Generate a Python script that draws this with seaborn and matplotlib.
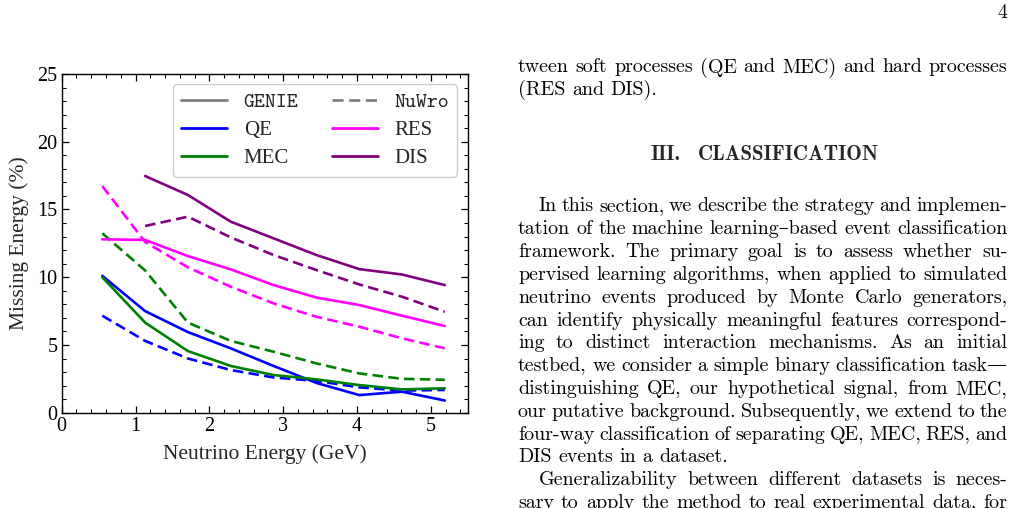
import matplotlib
matplotlib.use("Agg")
import matplotlib.pyplot as plt
from matplotlib.lines import Line2D
from matplotlib.ticker import MultipleLocator
import numpy as np
import pandas as pd
import seaborn as sns

# energy bin centres (GeV)
energy = [0.55, 1.13, 1.71, 2.29, 2.87, 3.45, 4.03, 4.61, 5.19]

# missing energy (%) per process, GENIE
genie_qe = [10.1, 7.5, 5.95, 4.75, 3.45, 2.2, 1.3, 1.55, 0.9]
genie_mec = [10.0, 6.65, 4.55, 3.45, 2.78, 2.46, 2.04, 1.72, 1.8]
genie_res = [12.8, 12.75, 11.56, 10.58, 9.42, 8.5, 7.95, 7.16, 6.4]
genie_dis = [None, 17.47, 16.07, 14.1, 12.87, 11.64, 10.6, 10.2, 9.42]

# missing energy (%) per process, NuWro
nuwro_qe = [7.16, 5.3, 4.0, 3.15, 2.6, 2.35, 1.87, 1.63, 1.68]
nuwro_mec = [13.24, 10.5, 6.65, 5.3, 4.5, 3.64, 2.9, 2.5, 2.43]
nuwro_res = [16.73, 12.6, 10.73, 9.3, 8.07, 7.08, 6.35, 5.49, 4.75]
nuwro_dis = [None, 13.78, 14.47, 12.94, 11.64, 10.53, 9.47, 8.56, 7.45]

processes = ["QE", "MEC", "RES", "DIS"]
generators = ["GENIE", "NuWro"]
colors = {"QE": "#0000ff", "MEC": "#008000", "RES": "#ff00ff", "DIS": "#800080"}

series = {
    ("GENIE", "QE"): genie_qe, ("GENIE", "MEC"): genie_mec,
    ("GENIE", "RES"): genie_res, ("GENIE", "DIS"): genie_dis,
    ("NuWro", "QE"): nuwro_qe, ("NuWro", "MEC"): nuwro_mec,
    ("NuWro", "RES"): nuwro_res, ("NuWro", "DIS"): nuwro_dis,
}
rows = []
for (gen, proc), vals in series.items():
    for e, v in zip(energy, vals):
        if v is not None:
            rows.append({"energy": e, "missing": v, "process": proc, "generator": gen})
df = pd.DataFrame(rows)

sns.set_style("ticks")
plt.rcParams["font.family"] = ["Liberation Serif", "DejaVu Serif"]

W, H = 1014, 508
fig = plt.figure(figsize=(W / 100, H / 100), dpi=100)
ax = fig.add_axes([61.7 / W, 1 - 412.7 / H, 406 / W, 338.7 / H])

sns.lineplot(data=df, x="energy", y="missing", hue="process", style="generator",
             hue_order=processes, style_order=generators, palette=colors,
             dashes={"GENIE": "", "NuWro": (4, 2)}, linewidth=1.9,
             legend=False, ax=ax)

ax.set_xlim(0, 5.5)
ax.set_ylim(0, 25)
ax.xaxis.set_major_locator(MultipleLocator(1))
ax.xaxis.set_minor_locator(MultipleLocator(0.2))
ax.yaxis.set_major_locator(MultipleLocator(5))
ax.yaxis.set_minor_locator(MultipleLocator(1))
ax.tick_params(which="both", direction="in", top=True, right=True, labelsize=14.5, colors="black")
ax.tick_params(which="major", length=5, width=0.9, pad=3)
ax.tick_params(which="minor", length=2.7, width=0.8)
for s in ax.spines.values():
    s.set_linewidth(1.0)
    s.set_color("black")
ax.set_xlabel("Neutrino Energy (GeV)", fontsize=15.5, labelpad=6)
ax.set_ylabel("Missing Energy (%)", fontsize=15.5, labelpad=6)

handles = [
    Line2D([], [], color="gray", lw=2, label="GENIE"),
    Line2D([], [], color=colors["QE"], lw=2, label="QE"),
    Line2D([], [], color=colors["MEC"], lw=2, label="MEC"),
    Line2D([], [], color="gray", lw=2, ls=(0, (4, 2)), label="NuWro"),
    Line2D([], [], color=colors["RES"], lw=2, label="RES"),
    Line2D([], [], color=colors["DIS"], lw=2, label="DIS"),
]
leg = ax.legend(handles=handles, ncol=2, loc="upper right", fontsize=15,
                handlelength=2.2, handletextpad=0.8, columnspacing=1.6,
                labelspacing=0.4, borderaxespad=0.5, borderpad=0.4, fancybox=True,
                framealpha=1, edgecolor="0.8")
for t in leg.get_texts():
    if t.get_text() in generators:
        t.set_fontfamily(["cmtt10", "DejaVu Sans Mono"])

# --- page text to the right of the figure ---
renderer = fig.canvas.get_renderer()
body = dict(family=["cmr10", "DejaVu Serif"], fontsize=14.4, color="black")
left, right = 518, 1007.5


def put_line(words, y, indent=0, justify=True, **kw):
    texts = [fig.text(0, 1 - y / H, w, ha="left", va="baseline", **kw) for w in words]
    widths = [t.get_window_extent(renderer).width for t in texts]
    x0 = left + indent
    if justify and len(words) > 1:
        gap = (right - x0 - sum(widths)) / (len(words) - 1)
    else:
        gap = 6.6
    x = x0
    for t, w in zip(texts, widths):
        t.set_x(x / W)
        x += w + gap


put_line("tween soft processes (QE and MEC) and hard processes".split(), 72.5, **body)
put_line("(RES and DIS).".split(), 95.3, justify=False, **body)

fig.text(681 / W, 1 - 160.5 / H, "III.", ha="right", va="baseline",
         family=["cmb10", "DejaVu Serif"], fontsize=15)
fig.text(698 / W, 1 - 160.5 / H, "CLASSIFICATION", ha="left", va="baseline",
         family=["cmb10", "DejaVu Serif"], fontsize=15)

para = [
    ("In this section, we describe the strategy and implemen-", 21, True),
    ("tation of the machine learning\u2013based event classification", 0, True),
    ("framework. The primary goal is to assess whether su-", 0, True),
    ("pervised learning algorithms, when applied to simulated", 0, True),
    ("neutrino events produced by Monte Carlo generators,", 0, True),
    ("can identify physically meaningful features correspond-", 0, True),
    ("ing to distinct interaction mechanisms. As an initial", 0, True),
    ("testbed, we consider a simple binary classification task\u2014", 0, True),
    ("distinguishing QE, our hypothetical signal, from MEC,", 0, True),
    ("our putative background. Subsequently, we extend to the", 0, True),
    ("four-way classification of separating QE, MEC, RES, and", 0, True),
    ("DIS events in a dataset.", 0, False),
    ("Generalizability between different datasets is neces-", 21, True),
    ("sary to apply the method to real experimental data, for", 0, True),
]
for i, (line, ind, just) in enumerate(para):
    put_line(line.split(), 211.5 + 22.8 * i, indent=ind, justify=just, **body)

fig.text(1007 / W, 1 - 18.5 / H, "4", ha="right", va="baseline", **body)

fig.savefig("out.png", dpi=100)
